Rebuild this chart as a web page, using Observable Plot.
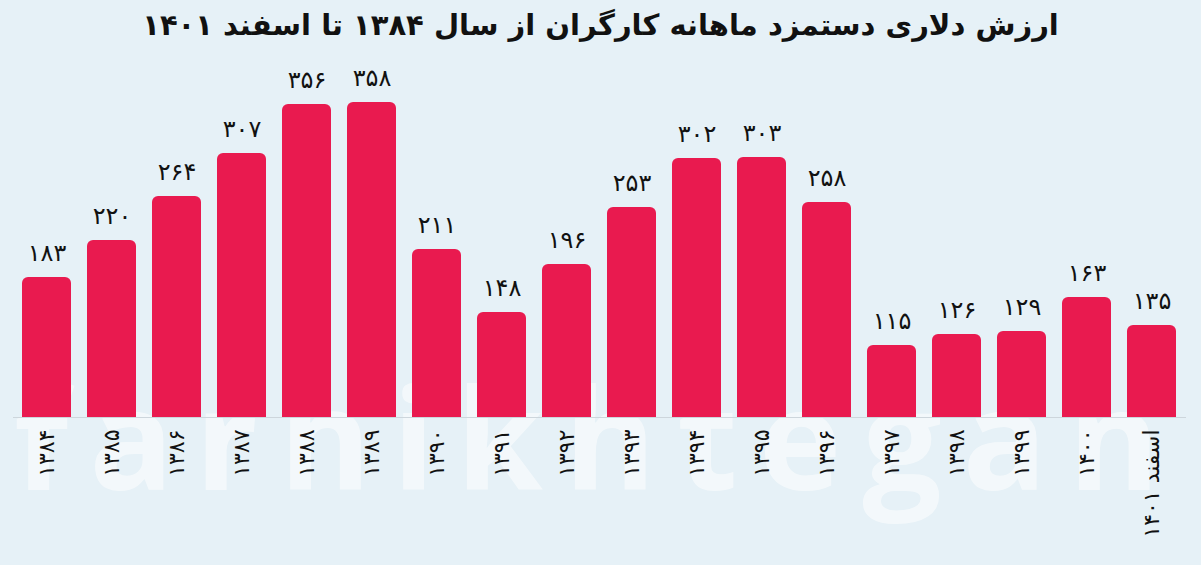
<!DOCTYPE html>
<html lang="fa">
<head>
<meta charset="utf-8">
<script src="https://cdn.jsdelivr.net/npm/d3@7"></script>
<script src="https://cdn.jsdelivr.net/npm/@observablehq/plot@0.6"></script>
<style>
  html, body { margin: 0; padding: 0; }
  body { width: 1201px; height: 565px; background: #e6f1f7; overflow: hidden; position: relative; font-family: "DejaVu Sans", sans-serif; }
  #title { height: 50px; line-height: 50px; text-align: center; font-size: 29px; font-weight: bold; color: #111; direction: rtl; position: relative; z-index: 2; }
  #wm { position: absolute; left: 14px; top: 366px; font-size: 140px; line-height: 1; font-weight: bold; color: #ffffff; opacity: 0.55; letter-spacing: 21px; z-index: 0; white-space: nowrap; font-family: "Open Sans", sans-serif; }
  #chart { position: relative; z-index: 1; }
</style>
</head>
<body>
<div id="wm">farhikhtegan</div>
<div id="title">ارزش دلاری دستمزد ماهانه کارگران از سال ۱۳۸۴ تا اسفند ۱۴۰۱</div>
<div id="chart"></div>
<script>
const years = ["۱۳۸۴","۱۳۸۵","۱۳۸۶","۱۳۸۷","۱۳۸۸","۱۳۸۹","۱۳۹۰","۱۳۹۱","۱۳۹۲","۱۳۹۳","۱۳۹۴","۱۳۹۵","۱۳۹۶","۱۳۹۷","۱۳۹۸","۱۳۹۹","۱۴۰۰","اسفند ۱۴۰۱"];
const wages = [183,220,264,307,356,358,211,148,196,253,302,303,258,115,126,129,163,135];

const toFa = n => String(n).replace(/\d/g, d => "۰۱۲۳۴۵۶۷۸۹"[d]);
const data = years.map((year, i) => ({year, value: wages[i]}));

const chart = Plot.plot({
  width: 1201,
  height: 515,
  marginTop: 52,
  marginBottom: 148,
  marginLeft: 13,
  marginRight: 16,
  style: {background: "transparent", fontFamily: "DejaVu Sans", color: "#111", overflow: "visible"},
  x: {domain: years, paddingInner: 0.25, paddingOuter: 0.125, label: null, axis: null},
  y: {domain: [43, 358], axis: null},
  marks: [
    Plot.barY(data, {x: "year", y: "value", fill: "#e91a4f", rx: 6, clip: true}),
    Plot.frame({anchor: "bottom", stroke: "#cdd6dc"}),
    Plot.text(data, {x: "year", y: "value", text: d => toFa(d.value), dy: -24, fontSize: 24, fill: "#111"}),
    Plot.axisX({tickRotate: -90, tickSize: 0, tickPadding: 12, fontSize: 22, label: null})
  ]
});
document.getElementById("chart").appendChild(chart);
</script>
</body>
</html>
